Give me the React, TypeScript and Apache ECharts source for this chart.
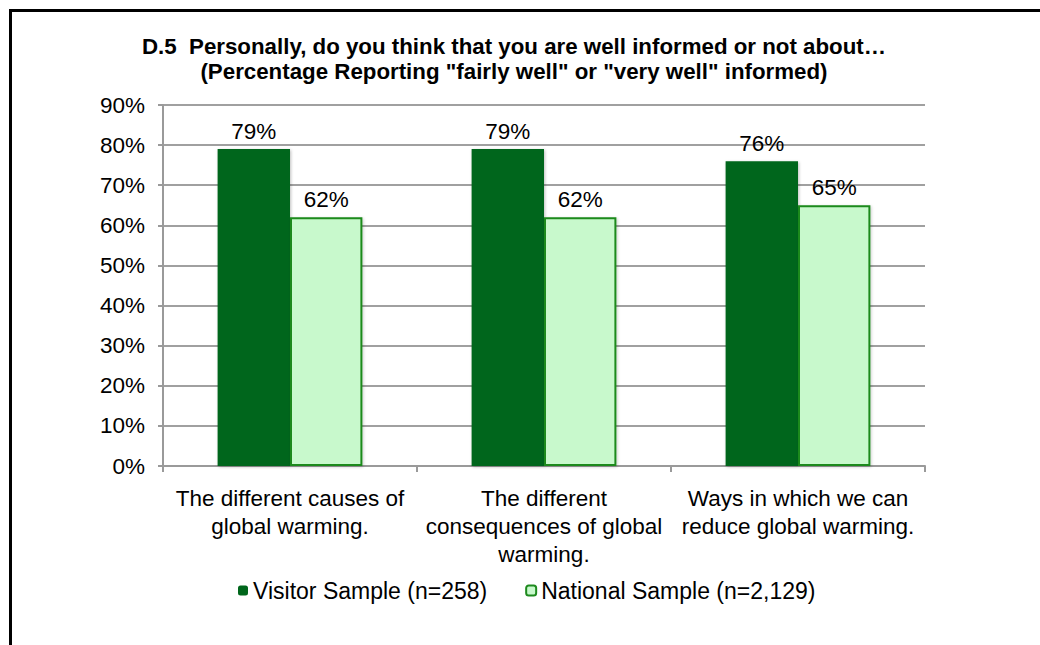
import React, { useEffect, useRef } from "react";
import * as echarts from "echarts";

const categories = [
  "The different causes of\nglobal warming.",
  "The different\nconsequences of global\nwarming.",
  "Ways in which we can\nreduce global warming.",
];
const visitorValues = [79, 79, 76];
const nationalValues = [62, 62, 65];
const visitorName = "Visitor Sample (n=258)";
const nationalName = "National Sample (n=2,129)";
const titleLines = [
  "D.5  Personally, do you think that you are well informed or not about…",
  '(Percentage Reporting "fairly well" or "very well" informed)',
];

const FONT = "'Liberation Sans', Arial, Helvetica, sans-serif";

export default function App() {
  const ref = useRef<HTMLDivElement>(null);

  useEffect(() => {
    if (!ref.current) return;
    const chart = echarts.init(ref.current, null, { renderer: "svg" });
    const labelStyle = {
      show: true,
      position: "top" as const,
      distance: 6,
      formatter: "{c}%",
      color: "#000",
      fontSize: 22.5,
      fontFamily: FONT,
    };
    chart.setOption({
      animation: false,
      backgroundColor: "#fff",
      title: {
        text: titleLines.join("\n"),
        left: 509,
        textAlign: "center",
        top: 29,
        textStyle: {
          fontSize: 22.3,
          fontWeight: "bold",
          color: "#000",
          fontFamily: FONT,
          lineHeight: 25,
        },
      },
      graphic: [
        {
          type: "polyline",
          shape: { points: [[10.5, 645], [10.5, 10.5], [1040, 10.5]] },
          style: { stroke: "#000", lineWidth: 3, fill: "none" },
          z: 100,
        },
      ],
      legend: {
        top: 574,
        left: 233,
        itemWidth: 10,
        itemHeight: 10,
        itemGap: 38,
        textStyle: { fontSize: 23, color: "#000", fontFamily: FONT, padding: [0, 0, 0, 0] },
        data: [visitorName, nationalName],
      },
      grid: { left: 163, right: 115, top: 105, bottom: 179 },
      xAxis: {
        type: "category",
        data: categories,
        axisLine: { lineStyle: { color: "#9a9a9a", width: 2 } },
        axisTick: { show: true, length: 6, lineStyle: { color: "#9a9a9a", width: 2 } },
        axisLabel: {
          color: "#000",
          fontSize: 22.5,
          fontFamily: FONT,
          lineHeight: 28,
          margin: 18,
          interval: 0,
        },
      },
      yAxis: {
        type: "value",
        min: 0,
        max: 90,
        interval: 10,
        axisLine: { show: true, lineStyle: { color: "#9a9a9a", width: 2 } },
        axisTick: { show: true, length: 5, lineStyle: { color: "#9a9a9a", width: 2 } },
        splitLine: { lineStyle: { color: "#a0a0a0", width: 2 } },
        axisLabel: {
          formatter: "{value}%",
          color: "#000",
          fontSize: 22.5,
          fontFamily: FONT,
          margin: 18,
        },
      },
      series: [
        {
          name: visitorName,
          type: "bar",
          data: visitorValues,
          barGap: "0%",
          barCategoryGap: "43%",
          itemStyle: {
            color: "#00661b",
            shadowBlur: 3,
            shadowColor: "rgba(0,0,0,0.25)",
            shadowOffsetX: 1,
            shadowOffsetY: 1,
          },
          label: labelStyle,
        },
        {
          name: nationalName,
          type: "bar",
          data: nationalValues,
          itemStyle: {
            color: "#c8f9cc",
            borderColor: "#1e8a1e",
            borderWidth: 2,
            shadowBlur: 3,
            shadowColor: "rgba(0,0,0,0.2)",
            shadowOffsetX: 1,
            shadowOffsetY: 1,
          },
          label: labelStyle,
        },
      ],
    });
    return () => chart.dispose();
  }, []);

  return (
    <div
      ref={ref}
      style={{ position: "absolute", left: 0, top: 0, width: 1040, height: 645 }}
    />
  );
}
